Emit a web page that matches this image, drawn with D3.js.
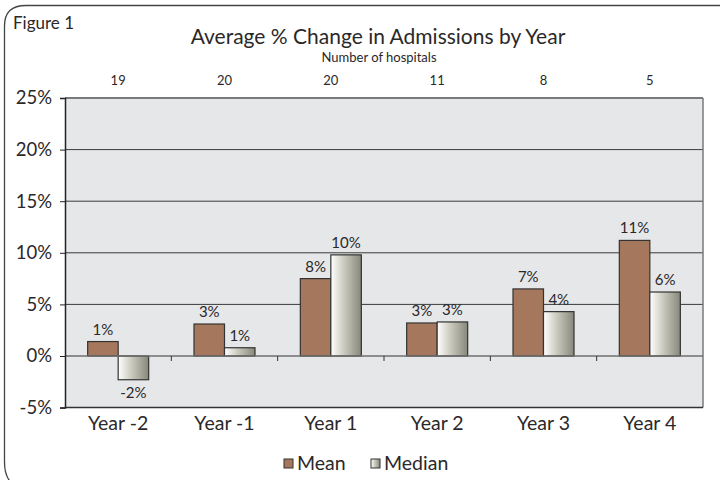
<!DOCTYPE html>
<html>
<head>
<meta charset="utf-8">
<script src="https://cdn.jsdelivr.net/npm/d3@7/dist/d3.min.js"></script>
<style>
  html, body { margin: 0; padding: 0; background: #fff; }
  svg { display: block; }
  text { font-family: Lato, "Noto Sans", sans-serif; fill: #2b2829; }
</style>
</head>
<body>
<svg id="chart" width="720" height="480"></svg>
<script>
// Chart data
const years = ["Year -2", "Year -1", "Year 1", "Year 2", "Year 3", "Year 4"];
const hospitals = [19, 20, 20, 11, 8, 5];
const meanValues = [1.4, 3.1, 7.5, 3.2, 6.5, 11.2];
const medianValues = [-2.3, 0.8, 9.8, 3.3, 4.3, 6.2];
const meanLabels = ["1%", "3%", "8%", "3%", "7%", "11%"];
const medianLabels = ["-2%", "1%", "10%", "3%", "4%", "6%"];
const seriesNames = ["Mean", "Median"];
const yTicks = [-5, 0, 5, 10, 15, 20, 25];

const svg = d3.select("#chart");
const plot = { left: 65, right: 703, top: 98, bottom: 407.6 };

// Outer frame with rounded left corners
svg.append("path")
  .attr("d", "M720,5.5 L26,5.5 Q4.5,5.5 4.5,26 L4.5,462 Q4.5,478 13,484")
  .attr("fill", "none").attr("stroke", "#444").attr("stroke-width", 1.3);

svg.append("text").attr("x", 13).attr("y", 29)
  .attr("font-size", 17).text("Figure 1");

svg.append("text").attr("x", 378).attr("y", 44).attr("text-anchor", "middle")
  .attr("font-size", 21).text("Average % Change in Admissions by Year");
svg.append("text").attr("x", 379).attr("y", 62).attr("text-anchor", "middle")
  .attr("font-size", 13).text("Number of hospitals");

const x = d3.scaleBand().domain(years).range([plot.left, plot.right]).paddingInner(0).paddingOuter(0);
const inner = d3.scaleBand().domain(seriesNames).range([0, 61]);
const groupOffset = (x.bandwidth() - 61) / 2;
const y = d3.scaleLinear().domain([-5, 25]).range([plot.bottom, plot.top]);

// Gradient for the median bars
const defs = svg.append("defs");
const grad = defs.append("linearGradient").attr("id", "medGrad")
  .attr("x1", "0%").attr("x2", "100%").attr("y1", "0%").attr("y2", "0%");
grad.append("stop").attr("offset", "0%").attr("stop-color", "#ffffff");
grad.append("stop").attr("offset", "45%").attr("stop-color", "#c9c8bd");
grad.append("stop").attr("offset", "100%").attr("stop-color", "#87877a");

// Plot background
svg.append("rect").attr("x", plot.left).attr("y", plot.top)
  .attr("width", plot.right - plot.left).attr("height", plot.bottom - plot.top)
  .attr("fill", "#e6e7e9");

// Gridlines
svg.append("g").selectAll("line").data(yTicks.filter(d => d > 0 && d < 25)).join("line")
  .attr("x1", plot.left).attr("x2", plot.right)
  .attr("y1", d => y(d)).attr("y2", d => y(d))
  .attr("stroke", "#3a3a3a").attr("stroke-width", 1);
svg.append("line").attr("x1", plot.left).attr("x2", plot.right)
  .attr("y1", y(25)).attr("y2", y(25)).attr("stroke", "#7a7a7a").attr("stroke-width", 2);
svg.append("line").attr("x1", plot.right).attr("x2", plot.right)
  .attr("y1", y(25)).attr("y2", plot.bottom).attr("stroke", "#7a7a7a").attr("stroke-width", 1.5);
svg.append("line").attr("x1", plot.left).attr("x2", plot.right)
  .attr("y1", plot.bottom).attr("y2", plot.bottom).attr("stroke", "#333").attr("stroke-width", 1.5);

// Bars
const groups = svg.append("g").selectAll("g").data(years).join("g")
  .attr("transform", d => `translate(${x(d) + groupOffset},0)`);

groups.append("rect")
  .attr("x", inner("Mean")).attr("width", inner.bandwidth())
  .attr("y", (d, i) => y(Math.max(0, meanValues[i])))
  .attr("height", (d, i) => Math.abs(y(meanValues[i]) - y(0)))
  .attr("fill", "#a5785d").attr("stroke", "#333").attr("stroke-width", 1.2);

groups.append("rect")
  .attr("x", inner("Median")).attr("width", inner.bandwidth())
  .attr("y", (d, i) => y(Math.max(0, medianValues[i])))
  .attr("height", (d, i) => Math.abs(y(medianValues[i]) - y(0)))
  .attr("fill", "url(#medGrad)").attr("stroke", "#333").attr("stroke-width", 1.2);

// Value labels
groups.append("text")
  .attr("x", inner("Mean") + inner.bandwidth() / 2)
  .attr("y", (d, i) => meanValues[i] >= 0 ? y(meanValues[i]) - 7 : y(meanValues[i]) + 18)
  .attr("text-anchor", "middle").attr("font-size", 15)
  .text((d, i) => meanLabels[i]);
groups.append("text")
  .attr("x", inner("Median") + inner.bandwidth() / 2)
  .attr("y", (d, i) => medianValues[i] >= 0 ? y(medianValues[i]) - 7 : y(medianValues[i]) + 18)
  .attr("text-anchor", "middle").attr("font-size", 15)
  .text((d, i) => medianLabels[i]);

// Zero line with category ticks
svg.append("line").attr("x1", plot.left).attr("x2", plot.right)
  .attr("y1", y(0)).attr("y2", y(0)).attr("stroke", "#6f6f6f").attr("stroke-width", 1.5);
svg.append("g").selectAll("line").data(years.slice(1)).join("line")
  .attr("x1", d => x(d)).attr("x2", d => x(d))
  .attr("y1", y(0)).attr("y2", y(0) + 5)
  .attr("stroke", "#333").attr("stroke-width", 1);

// Y axis
const yAxis = d3.axisLeft(y).tickValues(yTicks).tickSize(5).tickPadding(8)
  .tickFormat(d => d + "%");
const yg = svg.append("g").attr("transform", `translate(${plot.left},0)`).call(yAxis);
yg.select(".domain").attr("stroke", "#222").attr("stroke-width", 1.5);
yg.selectAll(".tick line").attr("stroke", "#222");
yg.selectAll(".tick text").attr("font-size", 18.5).attr("fill", "#2b2829")
  .attr("font-family", "Lato, 'Noto Sans', sans-serif");

// Category labels
svg.append("g").selectAll("text").data(years).join("text")
  .attr("x", d => x(d) + x.bandwidth() / 2).attr("y", 430)
  .attr("text-anchor", "middle").attr("font-size", 19.5)
  .text(d => d);

// Hospital counts above each category
svg.append("g").selectAll("text").data(years).join("text")
  .attr("x", d => x(d) + x.bandwidth() / 2).attr("y", 85)
  .attr("text-anchor", "middle").attr("font-size", 13)
  .text((d, i) => hospitals[i]);

// Legend
const legendItems = [
  { name: "Mean", x: 284, fill: "#a5785d" },
  { name: "Median", x: 371, fill: "url(#medGrad)" }
];
const lg = svg.append("g").selectAll("g").data(legendItems).join("g")
  .attr("transform", d => `translate(${d.x},459)`);
lg.append("rect").attr("width", 9).attr("height", 9)
  .attr("fill", d => d.fill).attr("stroke", "#333").attr("stroke-width", 1);
lg.append("text").attr("x", 13).attr("y", 11).attr("font-size", 19.5).text(d => d.name);
</script>
</body>
</html>
